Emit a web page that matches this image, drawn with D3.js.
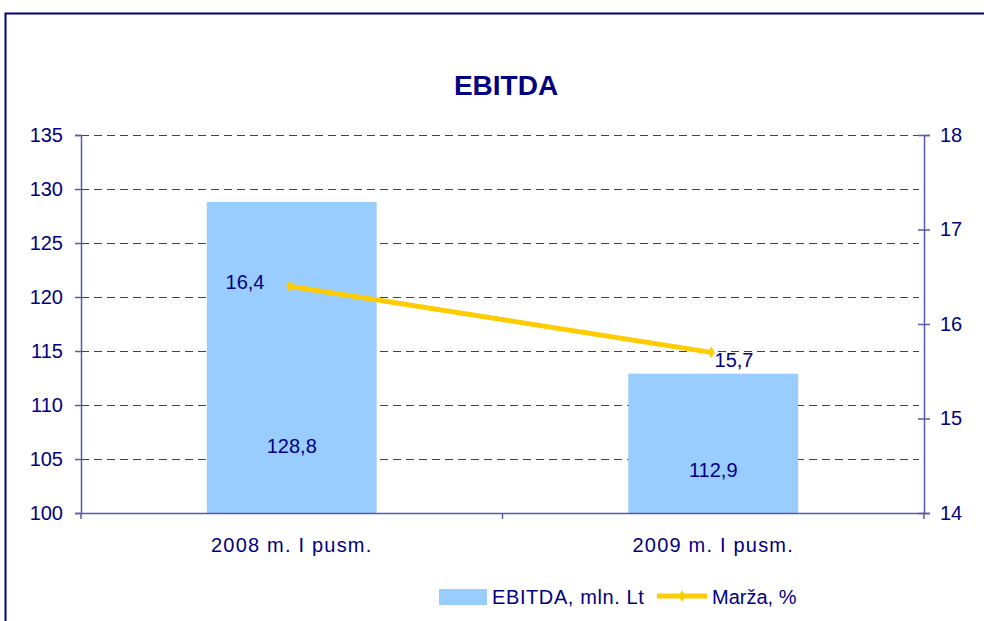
<!DOCTYPE html>
<head>
  <meta charset="utf-8">
  <script src="https://d3js.org/d3.v7.min.js"></script>
  <style>
    body { margin: 0; background: #fff; }
    text { font-family: "Liberation Sans", Arial, sans-serif; fill: #000080; }
  </style>
</head>
<body>
<script>
// data
var categories = ["2008 m. I pusm.", "2009 m. I pusm."];
var ebitda = [128.8, 112.9];
var marza = [16.4, 15.7];
var leftTicks = [100, 105, 110, 115, 120, 125, 130, 135];
var rightTicks = [14, 15, 16, 17, 18];

var svg = d3.select("body").append("svg")
  .attr("width", 984)
  .attr("height", 621);

// outer frame
svg.append("rect")
  .attr("x", 5.5).attr("y", 13.5)
  .attr("width", 1000).attr("height", 700)
  .attr("fill", "none")
  .attr("stroke", "#000080")
  .attr("stroke-width", 2);

var pLeft = 81, pRight = 924, pTop = 135, pBottom = 513;

var x = d3.scaleBand().domain(categories).range([pLeft, pRight]);
var y = d3.scaleLinear().domain([100, 135]).range([pBottom, pTop]);
var y2 = d3.scaleLinear().domain([14, 18]).range([pBottom, pTop]);

// title
svg.append("text")
  .attr("x", 506).attr("y", 95)
  .attr("text-anchor", "middle")
  .style("font-size", "28px")
  .style("font-weight", "bold")
  .text("EBITDA");

// gridlines
svg.selectAll(".grid").data(leftTicks.slice(1)).enter()
  .append("line")
  .attr("x1", pLeft).attr("x2", pRight - 5)
  .attr("y1", function(d) { return Math.round(y(d)) + 0.5; })
  .attr("y2", function(d) { return Math.round(y(d)) + 0.5; })
  .attr("stroke", "#3535a5")
  .attr("stroke-width", 1)
  .attr("shape-rendering", "crispEdges")
  .style("stroke-dasharray", "8, 5");

// bars
var barW = x.bandwidth() * 0.403;
svg.selectAll(".bar").data(ebitda).enter()
  .append("rect")
  .attr("x", function(d, i) { return x(categories[i]) + x.bandwidth() / 2 - barW / 2; })
  .attr("y", function(d) { return y(d); })
  .attr("width", barW)
  .attr("height", function(d) { return pBottom - y(d); })
  .attr("fill", "#99CCFF");

// axes
var axisColor = "#5a5aa8";
var gL = svg.append("g").attr("transform", "translate(" + pLeft + ",0)")
  .call(d3.axisLeft(y).tickValues(leftTicks).tickSize(6).tickPadding(12));
var gR = svg.append("g").attr("transform", "translate(" + pRight + ",0)")
  .call(d3.axisRight(y2).tickValues(rightTicks).tickFormat(d3.format("d"))
    .tickSize(6).tickPadding(10));
var gB = svg.append("g").attr("transform", "translate(0," + pBottom + ")")
  .call(d3.axisBottom(x).tickSize(0).tickPadding(32));

[gL, gR, gB].forEach(function(g) {
  g.select(".domain").attr("stroke", axisColor).attr("stroke-width", 1.5);
  g.selectAll(".tick line").attr("stroke", axisColor).attr("stroke-width", 1.5);
  g.selectAll("text").style("font-size", "20px").attr("fill", "#000080")
    .style("font-family", "'Liberation Sans', Arial, sans-serif");
});
gR.selectAll(".tick line").attr("x1", -6);
gB.selectAll(".tick text").attr("dy", "0.35em").style("letter-spacing", "1.2px");

// category separators on bottom axis
svg.selectAll(".sep").data(x.domain().map(function(d) { return x(d); }).concat([pRight])).enter()
  .append("line")
  .attr("x1", function(d) { return d; }).attr("x2", function(d) { return d; })
  .attr("y1", pBottom).attr("y2", pBottom + 6)
  .attr("stroke", axisColor).attr("stroke-width", 1.5);

// marza line
var line = d3.line()
  .x(function(d, i) { return x(categories[i]) + x.bandwidth() / 2 - 2; })
  .y(function(d) { return y2(d); });

svg.append("path").datum(marza)
  .attr("d", line)
  .attr("fill", "none")
  .attr("stroke", "#FFCC00")
  .attr("stroke-width", 5);

svg.selectAll(".mk").data(marza).enter()
  .append("path")
  .attr("transform", function(d, i) {
    return "translate(" + (x(categories[i]) + x.bandwidth() / 2 - 2) + "," + y2(d) + ")";
  })
  .attr("d", d3.symbol().type(d3.symbolDiamond).size(40))
  .attr("fill", "#FFCC00");

// value labels
var fmt = function(v) { return String(v).replace(".", ","); };
svg.selectAll(".bl").data(ebitda).enter()
  .append("text")
  .attr("x", function(d, i) { return x(categories[i]) + x.bandwidth() / 2; })
  .attr("y", function(d, i) { return i === 0 ? 453 : 477; })
  .attr("text-anchor", "middle")
  .style("font-size", "20px")
  .text(fmt);

svg.append("text")
  .attr("x", 245).attr("y", 289)
  .attr("text-anchor", "middle")
  .style("font-size", "20px")
  .text(fmt(marza[0]));
svg.append("text")
  .attr("x", 734).attr("y", 367)
  .attr("text-anchor", "middle")
  .style("font-size", "20px")
  .text(fmt(marza[1]));

// legend
var lg = svg.append("g");
lg.append("rect")
  .attr("x", 439).attr("y", 589)
  .attr("width", 48).attr("height", 16)
  .attr("fill", "#99CCFF");
lg.append("text")
  .attr("x", 492).attr("y", 604)
  .style("font-size", "20px")
  .style("letter-spacing", "0.6px")
  .text("EBITDA, mln. Lt");
lg.append("line")
  .attr("x1", 657).attr("x2", 707)
  .attr("y1", 596).attr("y2", 596)
  .attr("stroke", "#FFCC00").attr("stroke-width", 5);
lg.append("path")
  .attr("transform", "translate(682,596)")
  .attr("d", d3.symbol().type(d3.symbolDiamond).size(40))
  .attr("fill", "#FFCC00");
lg.append("text")
  .attr("x", 712).attr("y", 604)
  .style("font-size", "20px")
  .text("Marža, %");
</script>
</body>
